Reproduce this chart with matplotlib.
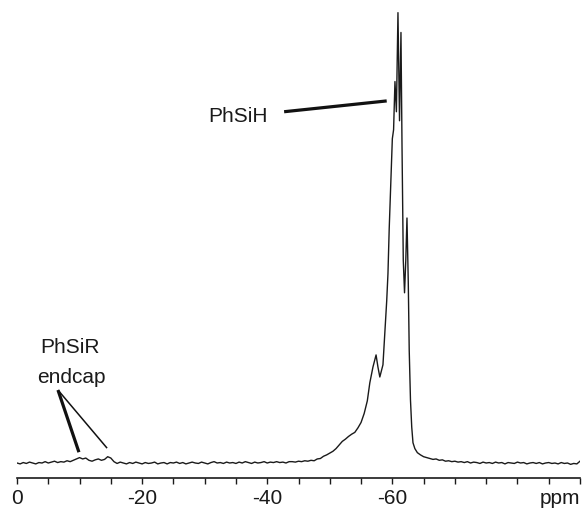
import matplotlib
matplotlib.use("Agg")
import matplotlib.pyplot as plt

plt.rcParams["font.family"] = ["Liberation Sans", "DejaVu Sans"]

# 29Si NMR spectrum: chemical shift (ppm) and relative intensity
shift_ppm = [
    0.0, -0.5, -1.0, -1.5, -2.0, -2.5, -3.0, -3.5, -4.0, -4.5,
    -5.0, -5.5, -6.0, -6.5, -7.0, -7.5, -8.0, -8.5, -9.0, -9.5,
    -10.0, -10.5, -11.0, -11.5, -12.0, -12.5, -13.0, -13.5, -14.0, -14.5,
    -15.0, -15.5, -16.0, -16.5, -17.0, -17.5, -18.0, -18.5, -19.0, -19.5,
    -20.0, -20.5, -21.0, -21.5, -22.0, -22.5, -23.0, -23.5, -24.0, -24.5,
    -25.0, -25.5, -26.0, -26.5, -27.0, -27.5, -28.0, -28.5, -29.0, -29.5,
    -30.0, -30.5, -31.0, -31.5, -32.0, -32.5, -33.0, -33.5, -34.0, -34.5,
    -35.0, -35.5, -36.0, -36.5, -37.0, -37.5, -38.0, -38.5, -39.0, -39.5,
    -40.0, -40.5, -41.0, -41.5, -42.0, -42.5, -43.0, -43.5, -44.0, -44.5,
    -45.0, -45.5, -46.0, -46.5, -47.0, -47.5, -48.0, -48.5, -49.0, -49.5,
    -50.0, -50.5, -51.0, -51.5, -52.0, -52.5, -53.0, -53.5, -54.0, -54.5,
    -55.0, -55.5, -56.0, -56.4, -56.9, -57.4, -57.7, -58.0, -58.5, -59.1,
    -59.3, -59.5, -59.8, -60.0, -60.2, -60.42, -60.65, -60.9, -61.15, -61.38,
    -61.55, -61.75, -61.95, -62.15, -62.34, -62.55, -62.7, -62.9, -63.1, -63.3,
    -63.6, -64.0, -64.5, -65.0, -65.5, -66.0, -66.5, -67.0, -67.5, -68.0,
    -68.5, -69.0, -69.5, -70.0, -70.5, -71.0, -71.5, -72.0, -72.5, -73.0,
    -73.5, -74.0, -74.5, -75.0, -75.5, -76.0, -76.5, -77.0, -77.5, -78.0,
    -78.5, -79.0, -79.5, -80.0, -80.5, -81.0, -81.5, -82.0, -82.5, -83.0,
    -83.5, -84.0, -84.5, -85.0, -85.5, -86.0, -86.5, -87.0, -87.5, -88.0,
    -88.5, -89.0, -89.5, -90.0,
]
intensity = [
    0.0, -0.2, 0.1, -0.1, 0.2, 0.0, -0.2, 0.1, 0.0, 0.3,
    0.0, 0.2, 0.4, 0.1, 0.3, 0.2, 0.5, 0.3, 0.6, 0.9,
    1.2, 0.9, 1.1, 0.6, 0.4, 0.7, 0.9, 0.6, 0.8, 1.4,
    1.1, 0.3, -0.1, 0.2, 0.0, -0.2, 0.1, -0.1, 0.2, 0.0,
    -0.2, 0.1, -0.1, 0.0, 0.2, -0.2, 0.0, 0.1, -0.2, 0.1,
    0.0, 0.2, -0.1, 0.1, -0.2, 0.0, 0.2, 0.0, -0.1, 0.2,
    0.0, -0.2, 0.1, 0.3, 0.0, 0.1, -0.1, 0.2, 0.0, 0.1,
    -0.1, 0.2, 0.0, 0.3, 0.1, -0.1, 0.2, 0.0, 0.1, 0.3,
    0.0, 0.2, 0.1, 0.3, 0.1, 0.2, 0.0, 0.3, 0.3, 0.2,
    0.4, 0.3, 0.5, 0.4, 0.6, 0.5, 0.9, 1.0, 1.5, 1.8,
    2.2, 2.6, 3.2, 4.0, 4.8, 5.3, 5.9, 6.4, 6.8, 7.8,
    9.0, 11.0, 13.8, 17.8, 21.3, 24.0, 21.3, 19.1, 21.8, 36.0,
    42.0, 52.0, 64.0, 72.0, 74.0, 84.7, 78.0, 100.0, 76.0, 95.6,
    70.0, 45.0, 37.8, 45.0, 54.4, 40.0, 25.0, 14.0, 8.0, 4.5,
    3.2, 2.3, 1.8, 1.4, 1.2, 1.0, 0.8, 0.9, 0.6, 0.7,
    0.4, 0.5, 0.3, 0.4, 0.2, 0.3, 0.1, 0.3, 0.0, 0.2,
    0.1, -0.1, 0.2, 0.0, 0.1, -0.1, 0.2, 0.0, 0.1, -0.2,
    0.1, 0.0, -0.1, 0.2, 0.0, 0.1, -0.2, 0.0, 0.1, -0.1,
    0.1, -0.2, 0.0, 0.1, -0.1, 0.0, -0.2, 0.1, -0.1, 0.0,
    -0.3, -0.1, -0.2, 0.4,
]

major_ticks = [0, -20, -40, -60]
major_labels = ["0", "-20", "-40", "-60"]
axis_unit = "ppm"

ink = "#1a1a1a"
label_size = 15
tick_len = 4
tick_pad = 4

fig = plt.figure(figsize=(5.85, 5.11), dpi=100)
ax = fig.add_axes([17 / 585, 33 / 511, 563 / 585, 473 / 511])

ax.plot(shift_ppm, intensity, color=ink, lw=1.0)

ax.set_xlim(0, -90)
ax.set_ylim(-3.33, 101.7)

tick_positions = list(range(0, -95, -5))
ax.set_xticks(tick_positions)
ax.set_xticklabels([major_labels[major_ticks.index(t)] if t in major_ticks else ""
                    for t in tick_positions])
ax.tick_params(axis="x", direction="out", length=tick_len, width=1, pad=tick_pad,
               labelsize=label_size, colors=ink)
ax.set_yticks([])
for side in ("left", "right", "top"):
    ax.spines[side].set_visible(False)
ax.spines["bottom"].set_linewidth(1.2)
ax.spines["bottom"].set_color(ink)

# Unit label on the tick-label row, flush with the right end of the axis
ax.annotate(axis_unit, xy=(-90, 0), xycoords=ax.get_xaxis_transform(),
            xytext=(0, -(tick_len + tick_pad)), textcoords="offset points",
            ha="right", va="top", fontsize=label_size, color=ink)

# Peak assignments
ax.text(-35.4, 75.8, "PhSiH", ha="center", va="baseline", fontsize=label_size, color=ink)
ax.plot([-42.7, -59.1], [78.0, 80.4], color="#111111", lw=2.3, solid_capstyle="butt")

ax.text(-8.5, 24.4, "PhSiR", ha="center", va="baseline", fontsize=label_size, color=ink)
ax.text(-8.7, 17.8, "endcap", ha="center", va="baseline", fontsize=label_size, color=ink)
ax.plot([-6.55, -9.9], [16.2, 2.4], color="#111111", lw=2.3, solid_capstyle="butt")
ax.plot([-6.55, -14.4], [16.2, 3.3], color="#111111", lw=1.1, solid_capstyle="butt")

fig.savefig("out.png", dpi=100, facecolor="white")
